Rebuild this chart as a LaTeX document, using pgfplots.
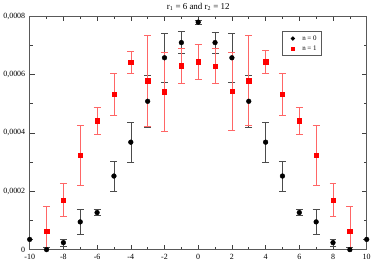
\documentclass[border=0pt]{standalone}
\usepackage{pgfplots}
\pgfplotsset{compat=1.18}
\usepackage{pgfplotstable}
\usepackage{fontspec}
\setmainfont{Liberation Serif}
\pgfplotstableread{
x y e
-10 0.000035 0
-9 0.0 0.000008
-8 0.000024 0.000013
-7 0.000095 0.000042
-6 0.000127 0.000011
-5 0.000252 0.000052
-4 0.000368 0.000069
-3 0.000508 0.000090
-2 0.000657 0.000083
-1 0.000709 0.000037
0 0.000779 0.000008
1 0.000709 0.000036
2 0.000657 0.000083
3 0.000508 0.000090
4 0.000368 0.000069
5 0.000252 0.000052
6 0.000127 0.000011
7 0.000095 0.000042
8 0.000024 0.000013
9 0.0 0.000008
10 0.000035 0
}\nzero
\pgfplotstableread{
x y e
-9 0.000064 0.000083
-8 0.000170 0.000056
-7 0.000324 0.000103
-6 0.000442 0.000047
-5 0.000532 0.000072
-4 0.000642 0.000038
-3 0.000579 0.000155
-2 0.000541 0.000135
-1 0.000630 0.000060
0 0.000644 0.000059
1 0.000629 0.000059
2 0.000542 0.000134
3 0.000579 0.000154
4 0.000643 0.000038
5 0.000532 0.000072
6 0.000442 0.000047
7 0.000324 0.000103
8 0.000170 0.000056
9 0.000064 0.000083
}\none
\begin{document}
\begin{tikzpicture}
\begin{axis}[
  scale only axis,
  width=339pt, height=235pt,
  xmin=-10, xmax=10, ymin=0, ymax=0.0008,
  xtick={-10,-8,...,10},
  minor x tick num=1,
  ytick={0,0.0002,0.0004,0.0006,0.0008},
  yticklabels={0,{0,0002},{0,0004},{0,0006},{0,0008}},
  minor y tick num=1,
  scaled y ticks=false,
  tick align=inside,
  major tick length=5pt, minor tick length=3pt,
  tick style={black!75, line width=0.6pt},
  axis line style={black!65, line width=1pt},
  /pgf/number format/assume math mode=true,
  ticklabel style={font=\footnotesize},
  xticklabel style={yshift=-1.5pt},
  yticklabel style={xshift=-1pt},
  title={r\textsubscript{1} = 6 and r\textsubscript{2} = 12},
  title style={font=\small, yshift=-4pt},
  legend style={at={(0.749,0.935)}, anchor=north west, font=\scriptsize, draw=black!65, line width=0.7pt, inner xsep=3pt, inner ysep=2pt, row sep=0pt},
  legend image code/.code={\path (0cm,0cm) (0.5cm,0cm); \draw[#1, mark size=1.8pt] plot coordinates {(0.25cm,0cm)};},
  legend cell align=left,
]
\addplot[only marks, mark=*, mark size=2.4pt, color=black,
  error bars/.cd, y dir=both, y explicit,
  error bar style={color=black!70, line width=0.6pt},
  error mark options={rotate=90, mark size=3.5pt, color=black!70, line width=0.6pt}]
  table[x=x, y=y, y error=e] {\nzero};
\addlegendentry{n = 0\hspace{5pt}}
\addplot[only marks, mark=square*, mark size=2.2pt, color=red,
  error bars/.cd, y dir=both, y explicit,
  error bar style={color=red!60, line width=0.6pt},
  error mark options={rotate=90, mark size=3.5pt, color=red!60, line width=0.6pt}]
  table[x=x, y=y, y error=e] {\none};
\addlegendentry{n = 1\hspace{5pt}}
\end{axis}
\end{tikzpicture}
\end{document}
